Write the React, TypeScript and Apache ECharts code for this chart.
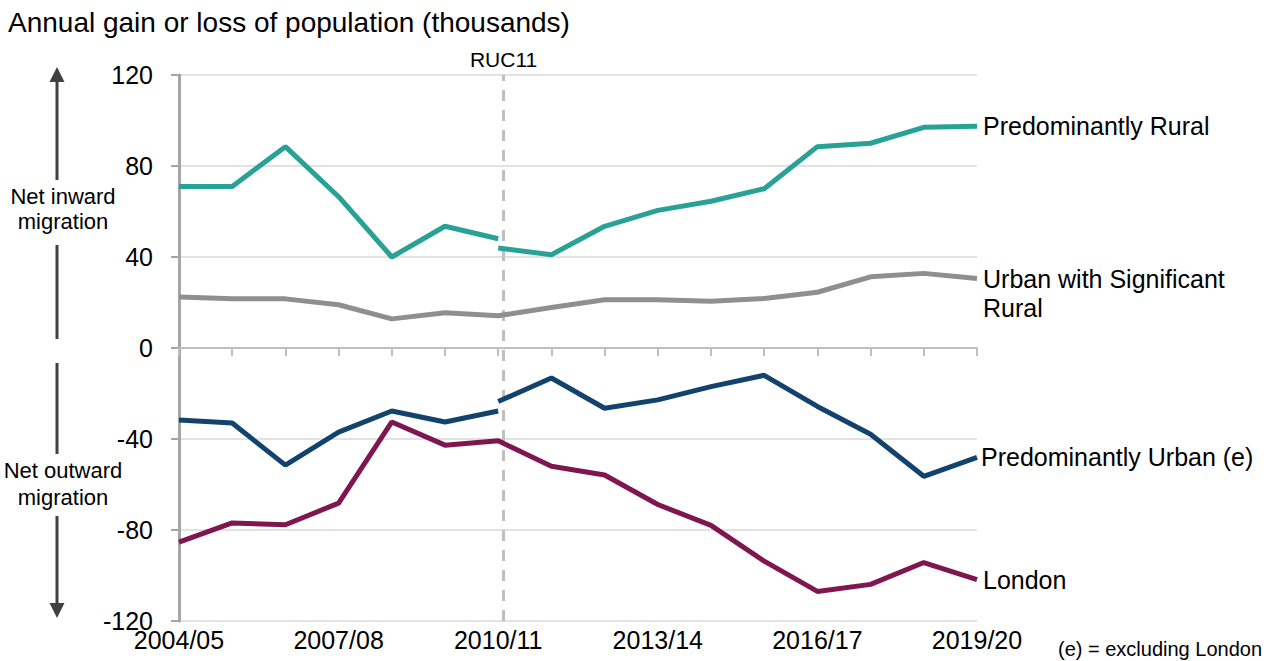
import React, { useEffect, useRef } from "react";
import * as echarts from "echarts";

const FONT = "'Liberation Sans', Arial, Helvetica, sans-serif";

const categories = [
  "2004/05", "2005/06", "2006/07", "2007/08", "2008/09", "2009/10", "2010/11", "2011/12",
  "2012/13", "2013/14", "2014/15", "2015/16", "2016/17", "2017/18", "2018/19", "2019/20",
];

// Series values (thousands). "Before" = old classification up to 2010/11, "After" = RUC11 from 2010/11.
const ruralBefore = [71, 71, 88.5, 66.5, 40, 53.5, 48];
const ruralAfter = [44, 41, 53.5, 60.5, 64.5, 70, 88.5, 90, 97, 97.5];
const urbanSigRural = [22.4, 21.6, 21.6, 19, 12.8, 15.5, 14.2, 17.8, 21.2, 21.2, 20.5, 21.8, 24.5, 31.3, 32.8, 30.5];
const urbanBefore = [-31.7, -33, -51.5, -37, -27.7, -32.5, -27.7];
const urbanAfter = [-23.5, -13.2, -26.5, -22.8, -17, -12, -25.7, -37.9, -56.4, -48.1];
const london = [-85.3, -76.9, -77.7, -68.2, -32.5, -42.7, -40.8, -52, -55.8, -68.8, -78, -93.7, -107, -103.9, -94.3, -101.8];

const yTicks = { min: -120, max: 120, interval: 40 };
const BREAK_INDEX = 6; // 2010/11
const RUC11_POSITION = 6.1; // dashed marker just right of 2010/11
const ZERO_LINE_END = 15.17; // zero line runs slightly past the last year

const COLORS = {
  rural: "#28A197",
  urbanSig: "#8F8F8F",
  urban: "#12436D",
  london: "#801650",
};

function padBefore(vals: number[]) {
  const out: (number | string)[] = [...vals];
  while (out.length < categories.length) out.push("-");
  return out;
}
function padAfter(vals: number[]) {
  const out: (number | string)[] = [];
  for (let i = 0; i < BREAK_INDEX; i++) out.push("-");
  return out.concat(vals);
}

export default function App() {
  const ref = useRef<HTMLDivElement>(null);

  useEffect(() => {
    if (!ref.current) return;
    const chart = echarts.init(ref.current, undefined, { renderer: "svg" });

    const lineBase = (color: string) => ({
      type: "line" as const,
      symbol: "none",
      showSymbol: false,
      lineStyle: { color, width: 5 },
      itemStyle: { color },
      z: 5,
    });

    const endLabel = (text: string, extra: any = {}) => ({
      show: true,
      formatter: text,
      color: "#000",
      fontSize: 25,
      fontFamily: FONT,
      distance: 6,
      ...extra,
    });

    const arrowColor = "#404040";
    const ax = 57;

    chart.setOption({
      animation: false,
      title: {
        text: "Annual gain or loss of population (thousands)",
        left: 3,
        top: 3,
        textStyle: { fontSize: 28, fontWeight: "normal", color: "#000", fontFamily: FONT },
      },
      grid: { left: 179, right: 295, top: 75, bottom: 40, containLabel: false },
      xAxis: [
        {
          type: "category",
          data: categories,
          boundaryGap: false,
          axisLine: { show: true, lineStyle: { color: "#BFBFBF", width: 2 } },
          axisTick: { show: true, interval: 0, length: 8, lineStyle: { color: "#BFBFBF", width: 2 } },
          axisLabel: { interval: 2, fontSize: 25, color: "#000", fontFamily: FONT, margin: 6 },
          splitLine: { show: false },
        },
        { type: "value", min: 0, max: categories.length - 1, show: false },
      ],
      yAxis: {
        type: "value",
        min: yTicks.min,
        max: yTicks.max,
        interval: yTicks.interval,
        axisLine: { show: true, lineStyle: { color: "#A6A6A6", width: 3 } },
        axisTick: { show: true, length: 8, lineStyle: { color: "#A6A6A6", width: 2 } },
        axisLabel: { fontSize: 25, color: "#000", fontFamily: FONT, margin: 26 },
        splitLine: { show: true, lineStyle: { color: "#D9D9D9", width: 1.5 } },
      },
      series: [
        {
          type: "line",
          xAxisIndex: 1,
          data: [[0, 0]],
          symbol: "none",
          showSymbol: false,
          lineStyle: { opacity: 0 },
          silent: true,
          clip: false,
          z: 2,
          markLine: {
            silent: true,
            symbol: "none",
            animation: false,
            data: [
              {
                xAxis: RUC11_POSITION,
                lineStyle: { color: "#BFBFBF", width: 3, type: [11, 9] },
                label: {
                  show: true,
                  position: "end",
                  formatter: "RUC11",
                  fontSize: 21,
                  color: "#000",
                  fontFamily: FONT,
                  distance: 5,
                },
              },
              [
                {
                  coord: [0, 0],
                  lineStyle: { color: "#A6A6A6", width: 3, type: "solid" },
                  label: { show: false },
                },
                { coord: [ZERO_LINE_END, 0] },
              ],
            ],
          },
        },
        { ...lineBase(COLORS.rural), name: "Predominantly Rural (pre)", data: padBefore(ruralBefore) },
        {
          ...lineBase(COLORS.rural),
          name: "Predominantly Rural",
          data: padAfter(ruralAfter),
          endLabel: endLabel("Predominantly Rural"),
        },
        {
          ...lineBase(COLORS.urbanSig),
          name: "Urban with Significant Rural",
          data: urbanSigRural,
          endLabel: endLabel("Urban with Significant\nRural", { lineHeight: 29, offset: [0, 14.5] }),
        },
        { ...lineBase(COLORS.urban), name: "Predominantly Urban (pre)", data: padBefore(urbanBefore) },
        {
          ...lineBase(COLORS.urban),
          name: "Predominantly Urban (e)",
          data: padAfter(urbanAfter),
          endLabel: endLabel("Predominantly Urban (e)", { distance: 4 }),
        },
        {
          ...lineBase(COLORS.london),
          name: "London",
          data: london,
          endLabel: endLabel("London"),
        },
      ],
      graphic: [
        {
          type: "polygon",
          shape: { points: [[ax, 67], [ax - 7.5, 82], [ax + 7.5, 82]] },
          style: { fill: arrowColor },
          silent: true,
        },
        { type: "line", shape: { x1: ax, y1: 81, x2: ax, y2: 180 }, style: { stroke: arrowColor, lineWidth: 3 }, silent: true },
        {
          type: "text",
          x: 63,
          y: 196,
          style: { text: "Net inward", fontSize: 22, fontFamily: FONT, fill: "#000", align: "center", verticalAlign: "middle" },
          silent: true,
        },
        {
          type: "text",
          x: 63,
          y: 221,
          style: { text: "migration", fontSize: 22, fontFamily: FONT, fill: "#000", align: "center", verticalAlign: "middle" },
          silent: true,
        },
        { type: "line", shape: { x1: ax, y1: 245, x2: ax, y2: 339 }, style: { stroke: arrowColor, lineWidth: 3 }, silent: true },
        { type: "line", shape: { x1: ax, y1: 363, x2: ax, y2: 454 }, style: { stroke: arrowColor, lineWidth: 3 }, silent: true },
        {
          type: "text",
          x: 63,
          y: 470,
          style: { text: "Net outward", fontSize: 22, fontFamily: FONT, fill: "#000", align: "center", verticalAlign: "middle" },
          silent: true,
        },
        {
          type: "text",
          x: 63,
          y: 497,
          style: { text: "migration", fontSize: 22, fontFamily: FONT, fill: "#000", align: "center", verticalAlign: "middle" },
          silent: true,
        },
        { type: "line", shape: { x1: ax, y1: 516, x2: ax, y2: 604 }, style: { stroke: arrowColor, lineWidth: 3 }, silent: true },
        {
          type: "polygon",
          shape: { points: [[ax, 618], [ax - 7.5, 603], [ax + 7.5, 603]] },
          style: { fill: arrowColor },
          silent: true,
        },
        {
          type: "text",
          right: 10,
          bottom: 2,
          style: { text: "(e) = excluding London", fontSize: 20, fontFamily: FONT, fill: "#000" },
          silent: true,
        },
      ],
    });

    return () => chart.dispose();
  }, []);

  return (
    <div
      ref={ref}
      style={{ position: "absolute", left: 0, top: 0, width: 1272, height: 661, background: "#fff" }}
    />
  );
}
